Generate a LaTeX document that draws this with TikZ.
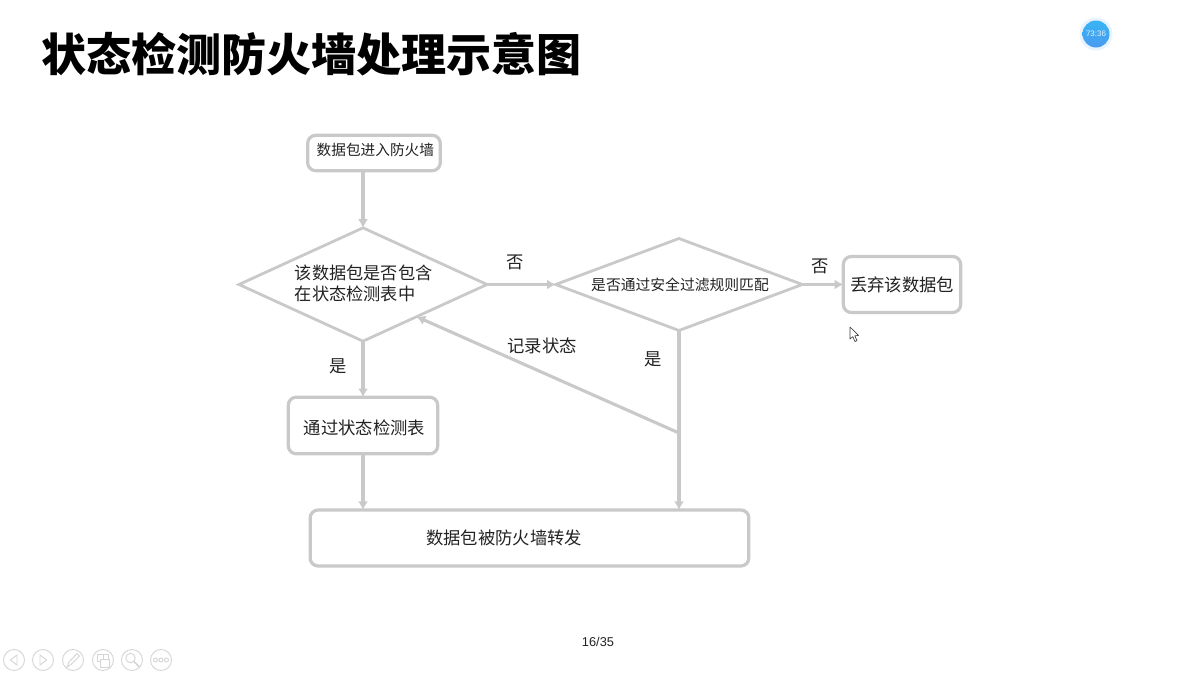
\documentclass[tikz,border=0pt]{standalone}
\usepackage{fontspec}
\setmainfont{Liberation Sans}
\newfontfamily\cjk{Noto Sans CJK SC}
\usetikzlibrary{arrows.meta,shapes.geometric}
\definecolor{flowgray}{HTML}{C9C9C9}
\definecolor{icongray}{HTML}{D6D6D6}
\definecolor{textgray}{HTML}{222222}
\definecolor{clockblue}{HTML}{4A9BF0}

\begin{document}
\begin{tikzpicture}[x=0.75pt,y=-0.75pt]

\tikzset{
  flowbox/.style={draw=flowgray, line width=2.4pt, rounded corners=6pt,
    outer sep=0pt, inner sep=0pt, align=center, text=textgray},
  flowtest/.style={diamond, draw=flowgray, line width=2.1pt,
    outer sep=0pt, inner sep=0pt, text=textgray},
  flowlabel/.style={text=textgray, inner sep=0pt, font=\cjk\fontsize{13pt}{15pt}\selectfont},
  flowline/.style={draw=flowgray, line width=2.35pt},
  flowarrow/.style={flowline, -{Latex[length=6.5pt,width=7.5pt]}},
  toolcircle/.style={draw=icongray, line width=0.7pt, fill=white},
  toolglyph/.style={draw=icongray, line width=0.7pt}
}

\useasboundingbox (0,0) rectangle (1200,675);

% title and page number
\node[anchor=west, inner sep=0pt, font=\cjk\bfseries\fontsize{33.8pt}{38pt}\selectfont] (title) at (41,54) {状态检测防火墙处理示意图};
\node[inner sep=0pt, text=textgray, font=\fontsize{9.6pt}{12pt}\selectfont] (page) at (598,642) {16/35};

% flow chart
\node[flowbox, minimum width=99.5pt, minimum height=26.5pt, font=\cjk\fontsize{11pt}{13pt}\selectfont] (enter) at (374,153) {\hspace{2pt}\raisebox{5pt}{数据包进入防火墙}};
\node[flowtest, aspect=2.17, minimum width=186pt, minimum height=85pt, align=left, font=\cjk\fontsize{12.9pt}{16pt}\selectfont] (stateTest) at (363,284.5) {\hspace{1pt}该数据包是否包含\\\hspace{1pt}在状态检测表中\rule[-3pt]{0pt}{0pt}};
\node[flowtest, aspect=2.68, minimum width=185pt, minimum height=69pt, font=\cjk\fontsize{11.1pt}{13pt}\selectfont] (ruleTest) at (679,284.5) {\hspace{1.5pt}是否通过安全过滤规则匹配};
\node[flowbox, minimum width=88pt, minimum height=42pt, font=\cjk\fontsize{13pt}{15pt}\selectfont] (drop) at (902,284.5) {丢弃该数据包};
\node[flowbox, minimum width=112pt, minimum height=42.5pt, font=\cjk\fontsize{13pt}{15pt}\selectfont] (pass) at (363,425.5) {\hspace{2pt}\rule{0pt}{14.5pt}通过状态检测表};
\node[flowbox, minimum width=329pt, minimum height=42pt] (forward) at (529.5,538) {};
\node[flowlabel, anchor=west] (forwardText) at (426,538) {数据包被防火墙转发};

\coordinate (joint) at (ruleTest.south |- 0,433);

\draw[flowarrow] (enter.south -| stateTest.north) -- (stateTest.north);
\draw[flowarrow] (stateTest.east) -- (ruleTest.west);
\draw[flowarrow] (ruleTest.east) -- (drop.west);
\draw[flowarrow] (stateTest.south) -- (pass.north);
\draw[flowarrow] (pass.south) -- (pass.south |- forward.north);
\draw[flowarrow] (ruleTest.south) -- (ruleTest.south |- forward.north);
\draw[flowarrow] (joint) -- (stateTest.-31);

\node[flowlabel] (noA) at (515,262) {否};
\node[flowlabel] (noB) at (820,266) {否};
\node[flowlabel] (yesA) at (338,366) {是};
\node[flowlabel] (yesB) at (653,359) {是};
\node[flowlabel] (record) at (542,346) {记录状态};

% clock
\fill[clockblue!12] (1096,34) circle (16.5);
\shade[top color=clockblue!75!cyan, bottom color=clockblue] (1096,34) circle (13.5);
\node[inner sep=0pt, text=white!85!clockblue, font=\fontsize{6pt}{7pt}\selectfont] (clock) at (1096,34) {73:36};

% mouse pointer
\draw[black!75, fill=white, line width=0.5pt, line join=round]
  (850,327) -- (850,339) -- (852.8,336.6) -- (855,341.5) -- (857,340.5) -- (854.8,335.8) -- (858.5,335.4) -- cycle;

% toolbar
\foreach \cx in {14,43,73,103,132,161}
  \draw[toolcircle] (\cx,660) circle (10.5);
\draw[toolglyph] (17,655) -- (10.5,660) -- (17,665) -- cycle;
\draw[toolglyph] (40,655) -- (46.5,660) -- (40,665) -- cycle;
\draw[toolglyph] (67,667) -- (69,662) -- (77,653.5) -- (79.5,656) -- (71,664.5) -- cycle;
\draw[toolglyph] (97,654) rectangle (103,661);
\draw[toolglyph] (103,654) rectangle (108,659);
\draw[toolglyph, fill=white] (100,659) rectangle (109,667);
\draw[toolglyph] (130.5,658) circle (4.7);
\draw[toolglyph, line width=1.3pt] (134,661.5) -- (139,666.5);
\foreach \dx in {155.5,161,166.5}
  \draw[toolglyph] (\dx,660) circle (2);

\end{tikzpicture}
\end{document}
